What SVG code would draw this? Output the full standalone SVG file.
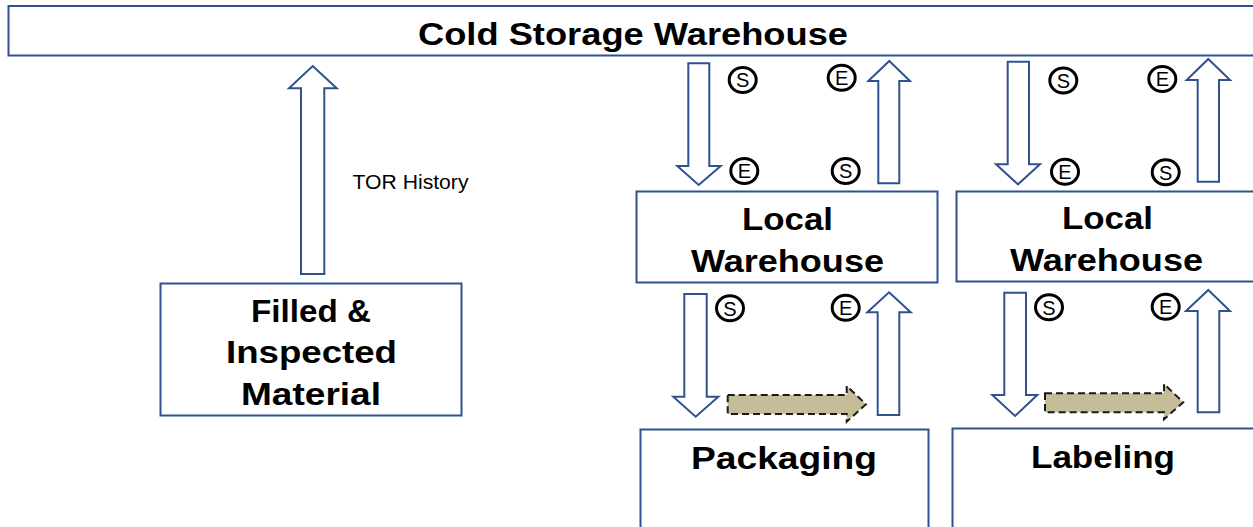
<svg xmlns="http://www.w3.org/2000/svg" width="1253" height="527" viewBox="0 0 1253 527">
  <style>
    .box { fill: #ffffff; stroke: #2F528F; stroke-width: 2; }
    .blk { fill: #ffffff; stroke: #2F528F; stroke-width: 2; stroke-linejoin: miter; }
    .dash { fill: #C4BD97; stroke: #1a1a1a; stroke-width: 2; stroke-dasharray: 7 4; }
    .lbl { font-family: "Liberation Sans", Arial, sans-serif; font-weight: bold; font-size: 32px; fill: #000000; }
    .tag ellipse { fill: #ffffff; stroke: #000000; stroke-width: 3; }
    .tag text { font-family: "Liberation Sans", Arial, sans-serif; font-size: 20px; fill: #000000; text-anchor: middle; }
    .note { font-family: "Liberation Sans", Arial, sans-serif; font-size: 20px; fill: #000000; }
  </style>

  <g id="cold-storage">
    <rect class="box" x="8.5" y="6" width="1260" height="49.5"/>
    <text class="lbl" x="418" y="45" textLength="430" lengthAdjust="spacingAndGlyphs">Cold Storage Warehouse</text>
  </g>

  <g id="filled-inspected">
    <rect class="box" x="160.5" y="283.5" width="301" height="132"/>
    <text class="lbl" x="251" y="321.5" textLength="120" lengthAdjust="spacingAndGlyphs">Filled &amp;</text>
    <text class="lbl" x="226" y="362.5" textLength="171" lengthAdjust="spacingAndGlyphs">Inspected</text>
    <text class="lbl" x="241" y="405" textLength="140" lengthAdjust="spacingAndGlyphs">Material</text>
  </g>

  <g id="local-warehouse-1">
    <rect class="box" x="636.5" y="191.5" width="301" height="91"/>
    <text class="lbl" x="742" y="230" textLength="91" lengthAdjust="spacingAndGlyphs">Local</text>
    <text class="lbl" x="691" y="272" textLength="193" lengthAdjust="spacingAndGlyphs">Warehouse</text>
  </g>

  <g id="local-warehouse-2">
    <rect class="box" x="956.5" y="191.5" width="310" height="90"/>
    <text class="lbl" x="1062" y="229" textLength="91" lengthAdjust="spacingAndGlyphs">Local</text>
    <text class="lbl" x="1010" y="271" textLength="193" lengthAdjust="spacingAndGlyphs">Warehouse</text>
  </g>

  <g id="packaging">
    <rect class="box" x="640.5" y="429.5" width="288" height="110"/>
    <text class="lbl" x="691" y="469" textLength="186" lengthAdjust="spacingAndGlyphs">Packaging</text>
  </g>

  <g id="labeling">
    <rect class="box" x="952.5" y="428.5" width="320" height="110"/>
    <text class="lbl" x="1031" y="468" textLength="144" lengthAdjust="spacingAndGlyphs">Labeling</text>
  </g>

  <g id="connectors">
    <!-- TOR history up arrow -->
    <polygon class="blk" points="312.7,66 336.7,88.3 324.3,88.3 324.3,274 301,274 301,88.3 289,88.3"/>
    <text class="note" x="352.5" y="189" textLength="116" lengthAdjust="spacingAndGlyphs">TOR History</text>

    <!-- Cold storage <-> Local warehouse 1 -->
    <polygon class="blk" points="688.3,63.3 709.3,63.3 709.3,166 720.7,166 698.7,185 677.3,166 688.3,166"/>
    <polygon class="blk" points="889.3,61 910,81 899.3,81 899.3,183.3 878.3,183.3 878.3,81 868.3,81"/>
    <!-- Cold storage <-> Local warehouse 2 -->
    <polygon class="blk" points="1007.7,61.7 1029,61.7 1029,164.3 1040,164.3 1018,184.3 996,164.3 1007.7,164.3"/>
    <polygon class="blk" points="1208.3,59 1230,80 1219,80 1219,181.7 1197.7,181.7 1197.7,80 1186.7,80"/>
    <!-- Local warehouse 1 <-> Packaging -->
    <polygon class="blk" points="684.3,294 706.7,294 706.7,396.7 718.3,396.7 695.7,416.7 673.3,396.7 684.3,396.7"/>
    <polygon class="blk" points="889,292.3 910.7,312.3 899.3,312.3 899.3,415 877.7,415 877.7,312.3 867.3,312.3"/>
    <!-- Local warehouse 2 <-> Labeling -->
    <polygon class="blk" points="1004.3,292.7 1026,292.7 1026,395 1037.3,395 1015,416 992.3,395 1004.3,395"/>
    <polygon class="blk" points="1208.3,290 1230,311 1219.3,311 1219.3,412.3 1197.7,412.3 1197.7,311 1186,311"/>

    <!-- dashed process arrows -->
    <polygon class="dash" points="727.7,395 846.7,395 846.7,386 866,404.3 846.7,421.7 846.7,414 727.7,414"/>
    <polygon class="dash" points="1045,393.3 1164,393.3 1164,384 1183.3,402.3 1164,419.3 1164,412.3 1045,412.3"/>

    <!-- start / end tags -->
    <g class="tag">
      <ellipse cx="742.7" cy="80" rx="13.5" ry="12.5"/><text x="742.7" y="87.2">S</text>
      <ellipse cx="841.7" cy="77.7" rx="13.5" ry="12.5"/><text x="841.7" y="84.9">E</text>
      <ellipse cx="744.3" cy="171" rx="13.5" ry="12.5"/><text x="744.3" y="178.2">E</text>
      <ellipse cx="845.7" cy="171" rx="13.5" ry="12.5"/><text x="845.7" y="178.2">S</text>

      <ellipse cx="1063.3" cy="80.5" rx="13.5" ry="12.5"/><text x="1063.3" y="87.7">S</text>
      <ellipse cx="1162.3" cy="79" rx="13.5" ry="12.5"/><text x="1162.3" y="86.2">E</text>
      <ellipse cx="1065" cy="171.7" rx="13.5" ry="12.5"/><text x="1065" y="178.9">E</text>
      <ellipse cx="1165.7" cy="172.3" rx="13.5" ry="12.5"/><text x="1165.7" y="179.5">S</text>

      <ellipse cx="730" cy="308.3" rx="13.5" ry="12.5"/><text x="730" y="315.5">S</text>
      <ellipse cx="845.7" cy="307.7" rx="13.5" ry="12.5"/><text x="845.7" y="314.9">E</text>
      <ellipse cx="1049" cy="307.3" rx="13.5" ry="12.5"/><text x="1049" y="314.5">S</text>
      <ellipse cx="1165.7" cy="306.7" rx="13.5" ry="12.5"/><text x="1165.7" y="313.9">E</text>
    </g>
  </g>
</svg>
